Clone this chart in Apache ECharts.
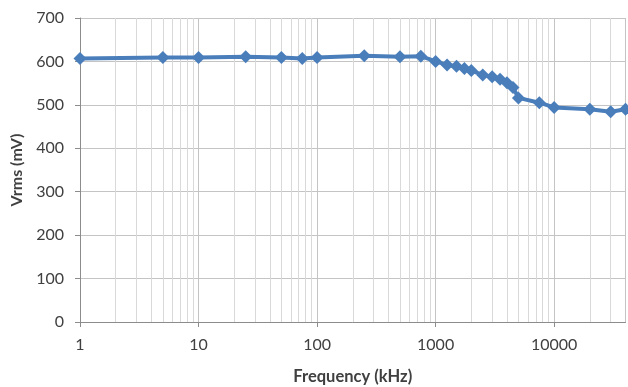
<!DOCTYPE html>
<html>
<head>
<meta charset="utf-8">
<script src="https://cdn.jsdelivr.net/npm/echarts@6/dist/echarts.min.js"></script>
<style>
  html, body { margin: 0; padding: 0; background: #ffffff; }
  #chart { width: 628px; height: 387px; }
</style>
</head>
<body>
<div id="chart"></div>
<script>
// Measured output level versus frequency
const frequencies = [1, 5, 10, 25, 50, 75, 100, 250, 500, 750, 1000, 1250, 1500, 1750, 2000, 2500, 3000, 3500, 4000, 4500, 5000, 7500, 10000, 20000, 30000, 40000];
const vrms = [607, 609, 609, 611, 609, 607, 609, 613, 611, 612, 600, 592, 589, 584, 579, 569, 565, 559, 551, 540, 516, 505, 494, 490, 484, 490];

// Intermediate gridlines (2..9 of every decade)
const minorGrid = [2, 3, 4, 5, 6, 7, 8, 9, 20, 30, 40, 50, 60, 70, 80, 90, 200, 300, 400, 500, 600, 700, 800, 900, 2000, 3000, 4000, 5000, 6000, 7000, 8000, 9000, 20000, 30000];

const FONT = 'Lato';
const TEXT = '#404040';

const chart = echarts.init(document.getElementById('chart'), null, { renderer: 'canvas' });

chart.setOption({
  animation: false,
  backgroundColor: '#ffffff',
  grid: { left: 80, right: 2.5, top: 18, bottom: 65, containLabel: false, outerBoundsMode: 'none' },
  xAxis: {
    type: 'log',
    logBase: 10,
    min: 1,
    max: 40000,
    name: 'Frequency (kHz)',
    nameLocation: 'middle',
    nameGap: 46,
    nameTextStyle: { fontFamily: FONT, fontSize: 16.5, fontWeight: 'bold', color: TEXT },
    axisLine: { show: true, lineStyle: { color: '#8c8c8c', width: 1 } },
    axisTick: { show: true, length: 5, lineStyle: { color: '#8c8c8c' } },
    axisLabel: { fontFamily: FONT, fontSize: 16, color: TEXT, margin: 15, showMaxLabel: false,
      formatter: v => (v > 10001 ? '' : String(v)) },
    splitLine: { show: true, lineStyle: { color: '#c4c4c4', width: 1 } }
  },
  yAxis: {
    type: 'value',
    min: 0,
    max: 700,
    interval: 100,
    name: 'Vrms (mV)',
    nameLocation: 'middle',
    nameGap: 52,
    nameTextStyle: { fontFamily: FONT, fontSize: 16, fontWeight: 'bold', color: TEXT },
    axisLine: { show: true, lineStyle: { color: '#8c8c8c', width: 1 } },
    axisTick: { show: true, length: 5, lineStyle: { color: '#8c8c8c' } },
    axisLabel: { fontFamily: FONT, fontSize: 16, color: TEXT, margin: 16 },
    splitLine: { show: true, lineStyle: { color: '#c4c4c4', width: 1 } }
  },
  series: [
    {
      type: 'line',
      name: 'grid',
      data: [],
      silent: true,
      markLine: {
        silent: true,
        symbol: 'none',
        label: { show: false },
        lineStyle: { color: '#d9d9d9', width: 1, type: 'solid' },
        data: minorGrid.map(f => ({ xAxis: f }))
      },
      z: 1
    },
    {
      type: 'line',
      name: 'Vrms',
      data: frequencies.map((f, i) => [f, vrms[i]]),
      symbol: 'diamond',
      symbolSize: 13,
      showAllSymbol: true,
      lineStyle: { color: '#4A7EBB', width: 4 },
      itemStyle: { color: '#4A7EBB' },
      z: 5
    }
  ]
});
</script>
</body>
</html>
